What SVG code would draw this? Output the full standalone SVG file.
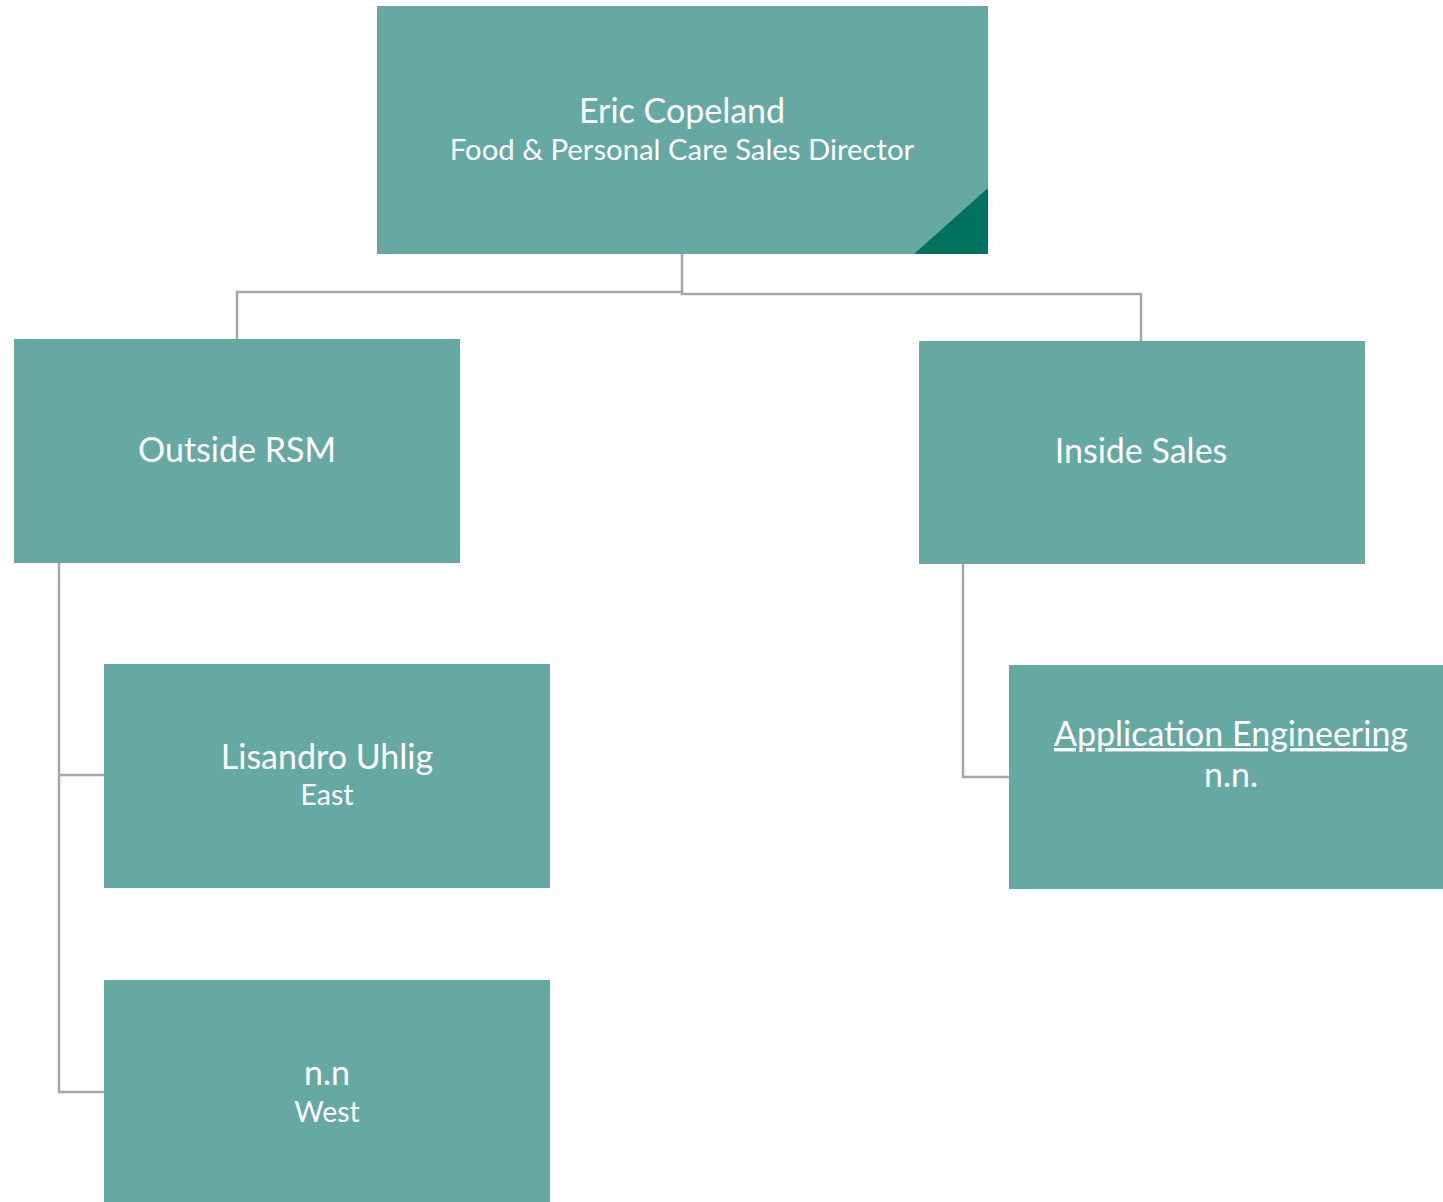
<svg xmlns="http://www.w3.org/2000/svg" width="1443" height="1202" viewBox="0 0 1443 1202">
<style>
.box{fill:#66A9A2}
.t1{font-family:Lato,"Open Sans","Liberation Sans",sans-serif;font-size:34px;fill:#fff;text-anchor:middle}
.t2{font-family:Lato,"Open Sans","Liberation Sans",sans-serif;font-size:28.5px;fill:#fff;text-anchor:middle}
.ln{fill:none;stroke:#A6A6A6;stroke-width:2.5}
</style>
<rect width="1443" height="1202" fill="#fff"/>
<g id="connectors">
<polyline class="ln" points="682,254 682,292 237,292 237,339"/>
<polyline class="ln" points="682,292 682,294 1141,294 1141,341"/>
<polyline class="ln" points="59,563 59,1092 104,1092"/>
<line class="ln" x1="59" y1="775" x2="104" y2="775"/>
<polyline class="ln" points="963,564 963,777 1009,777"/>
</g>
<g id="director">
<rect class="box" x="377" y="6" width="611" height="248"/>
<polygon points="914,254 988,188 988,254" fill="#00725F"/>
<text class="t1" x="682" y="123">Eric Copeland</text>
<text class="t2" x="682" y="160" style="font-size:29.3px">Food &amp; Personal Care Sales Director</text>
</g>
<g id="outside-rsm">
<rect class="box" x="14" y="339" width="446" height="224"/>
<text class="t1" x="237" y="462">Outside RSM</text>
</g>
<g id="inside-sales">
<rect class="box" x="919" y="341" width="446" height="223"/>
<text class="t1" x="1141" y="463">Inside Sales</text>
</g>
<g id="east">
<rect class="box" x="104" y="664" width="446" height="224"/>
<text class="t1" x="327" y="769">Lisandro Uhlig</text>
<text class="t2" x="327" y="805">East</text>
</g>
<g id="west">
<rect class="box" x="104" y="980" width="446" height="222"/>
<text class="t1" x="327" y="1085">n.n</text>
<text class="t2" x="327" y="1122">West</text>
</g>
<g id="app-eng">
<rect class="box" x="1009" y="665" width="434" height="224"/>
<text class="t1" x="1231" y="746" text-decoration="underline">Application Engineering</text>
<text class="t1" x="1231" y="787">n.n.</text>
</g>
</svg>
